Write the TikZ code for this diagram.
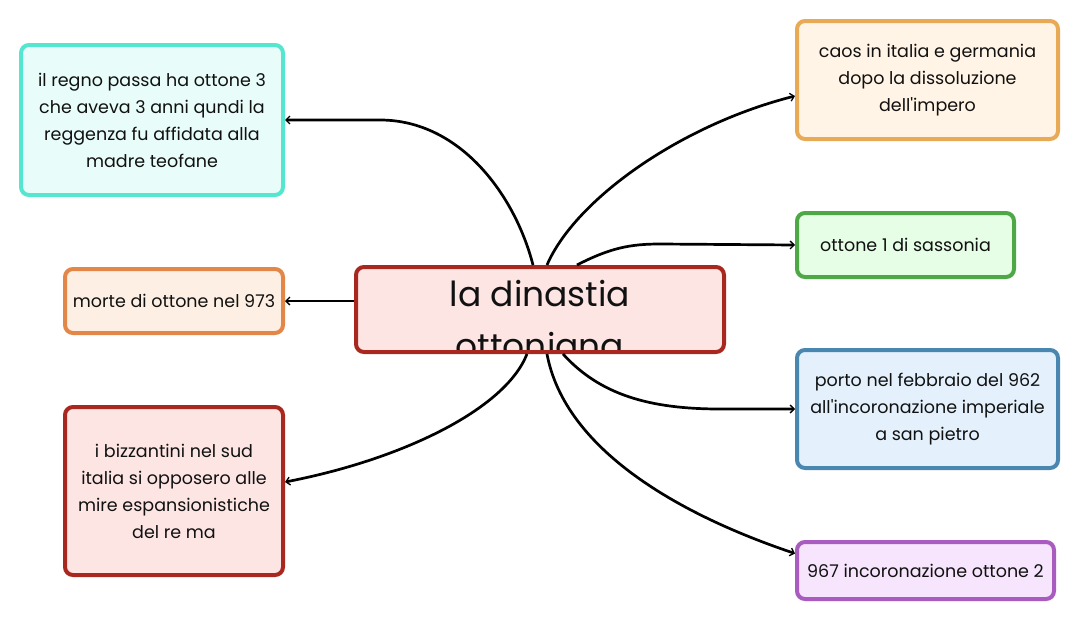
\documentclass[tikz,border=0pt]{standalone}
\usepackage{fontspec}
\setmainfont{Poppins}[Ligatures=TeXOff]
\usetikzlibrary{arrows.meta}
\definecolor{tealb}{HTML}{55E6CF}\definecolor{tealf}{HTML}{E8FCF9}
\definecolor{orab}{HTML}{E8AA55}\definecolor{oraf}{HTML}{FFF4E5}
\definecolor{grnb}{HTML}{4DA845}\definecolor{grnf}{HTML}{E6FDE6}
\definecolor{olb}{HTML}{E38748}\definecolor{olf}{HTML}{FDEFE3}
\definecolor{redb}{HTML}{A8271F}\definecolor{redf}{HTML}{FDE5E4}
\definecolor{blub}{HTML}{4A87B0}\definecolor{bluf}{HTML}{E4F1FC}
\definecolor{purb}{HTML}{A95BBF}\definecolor{purf}{HTML}{F6E5FC}
\definecolor{ink}{HTML}{111111}
\begin{document}
\begin{tikzpicture}[x=1pt,y=-1pt,
  box/.style={rounded corners=8pt, line width=4pt, align=center, inner sep=0pt,
    text=ink, font=\fontsize{17.5}{27}\selectfont},
  conn/.style={line width=2.7pt, draw=black,
    -{Straight Barb[length=4pt,width=8pt,line width=1.3pt]}}]
\useasboundingbox (0,0) rectangle (1080,621);
\node[box, draw=tealb, fill=tealf, minimum width=262pt, minimum height=150pt] (teal) at (152,120)
  {il regno passa ha ottone 3\\che aveva 3 anni qundi la\\reggenza fu affidata alla\\madre teofane};
\node[box, draw=orab, fill=oraf, minimum width=261pt, minimum height=118pt] (ora) at (927.5,80)
  {caos in italia e germania\\dopo la dissoluzione\\dell'impero};
\node[box, draw=grnb, fill=grnf, minimum width=217pt, minimum height=64pt] (grn) at (905.5,245)
  {ottone 1 di sassonia};
\node[box, draw=olb, fill=olf, minimum width=218pt, minimum height=64pt] (ol) at (174,301)
  {morte di ottone nel 973};
\node[box, draw=redb, fill=redf, minimum width=218pt, minimum height=168pt] (red) at (174,491)
  {i bizzantini nel sud\\italia si opposero alle\\mire espansionistiche\\del re ma};
\node[box, draw=blub, fill=bluf, minimum width=261pt, minimum height=118pt] (blu) at (927.5,409)
  {porto nel febbraio del 962\\all'incoronazione imperiale\\a san pietro};
\node[box, draw=purb, fill=purf, minimum width=257pt, minimum height=57pt] (pur) at (925.5,570.5)
  {967 incoronazione ottone 2};
\node[box, draw=redb, fill=redf, minimum width=368pt, minimum height=85pt,
  path picture={\node[font=\fontsize{34.5}{52}\selectfont, align=center, text=ink, inner sep=0pt]
    at ([yshift=-10pt]path picture bounding box.center) {la dinastia\\ottoniana};}] (ctr) at (540,309.5) {};
% connectors
\draw[conn] ([xshift=-7pt]ctr.north) .. controls (515,195) and (460,120) .. (380,120) -- (teal.east);
\draw[conn] ([xshift=7pt]ctr.north) .. controls (575,200) and (680,125) .. ([yshift=-16pt]ora.west);
\draw[conn] ([xshift=37pt]ctr.north) .. controls (610,248) and (630,244) .. (660,244) -- (grn.west);
\draw[conn] (ctr.west |- ol.east) -- (ol.east);
\draw[conn] ([xshift=-13pt]ctr.south) .. controls (505,410) and (400,460) .. ([yshift=9pt]red.east);
\draw[conn] ([xshift=23pt]ctr.south) .. controls (600,395) and (650,409) .. (720,409) -- (blu.west);
\draw[conn] ([xshift=7pt]ctr.south) .. controls (565,450) and (680,515) .. ([yshift=17pt]pur.west);
\end{tikzpicture}
\end{document}
